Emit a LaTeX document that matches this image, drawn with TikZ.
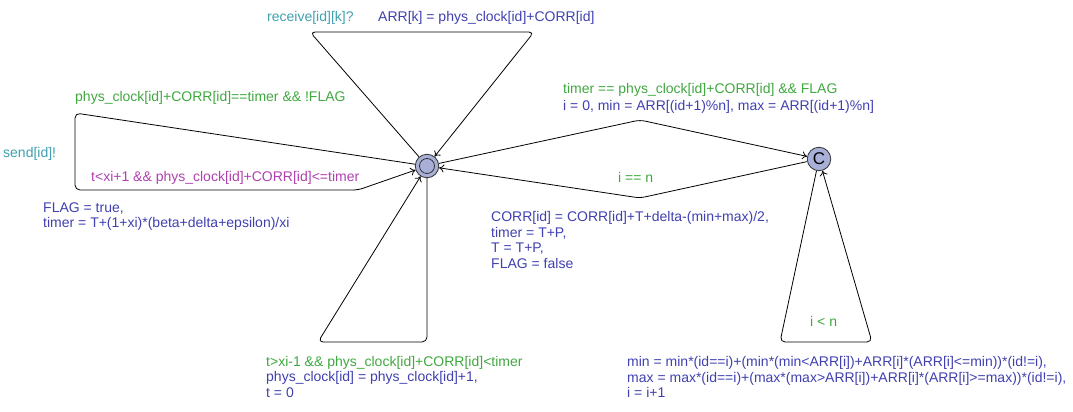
\documentclass[tikz,border=0pt]{standalone}
\usepackage{fontspec}
\setmainfont{Liberation Sans}
\usetikzlibrary{positioning,arrows.meta}
\definecolor{guardc}{RGB}{64,168,64}
\definecolor{syncc}{RGB}{64,160,176}
\definecolor{assignc}{RGB}{64,64,176}
\definecolor{invc}{RGB}{176,64,176}
\definecolor{locfill}{RGB}{168,176,216}
\begin{document}
\begin{tikzpicture}[x=1pt,y=-1pt,
    loc/.style={circle,draw=black!80,fill=locfill,minimum size=23.5pt,inner sep=0pt,line width=0.8pt},
    edge/.style={-{To[length=5pt,width=8pt]},rounded corners=5pt,line width=0.8pt},
    lbl/.style={anchor=north west,inner sep=0pt,align=left,font=\fontsize{14}{15.5}\selectfont}]
    \useasboundingbox (0,0) rectangle (1073,412);
    \node[loc] (init) at (427,166) {};
    \draw[black!80,line width=0.8pt] (init.center) circle (7.5pt);
    \node[loc,font=\fontsize{17}{17}\selectfont] (comm) at (819,159) {C};
    \coordinate (t1) at (310,32);
    \coordinate (t2) at (534,32);
    \coordinate (l1) at (75,113);
    \coordinate (l2) at (75,190);
    \coordinate (l3) at (358,190);
    \coordinate (b1) at (427,342);
    \coordinate (b2) at (318,342);
    \coordinate (m1) at (640,120);
    \coordinate (m2) at (640,198);
    \coordinate (c1) at (780,342);
    \coordinate (c2) at (872,342);
    \draw[edge] (init) -- (t1) -- (t2) -- (init);
    \draw[edge] (init) -- (l1) -- (l2) -- (l3) -- (init);
    \draw[edge] (init) -- (b1) -- (b2) -- (init);
    \draw[edge] (init) -- (m1) -- (comm);
    \draw[edge] (comm) -- (m2) -- (init);
    \draw[edge] (comm) -- (c1) -- (c2) -- (comm);
    \node[lbl,text=syncc] (sync1) at (267,11.5) {receive[id][k]?};
    \node[lbl,text=assignc] (assign1) at (378,11.5) {ARR[k] = phys\_clock[id]+CORR[id]};
    \node[lbl,text=guardc] (guard2) at (75,91.5) {phys\_clock[id]+CORR[id]==timer \&\& !FLAG};
    \node[lbl,text=syncc] (sync2) at (3,147.5) {send[id]!};
    \node[lbl,text=invc] (inv) at (91,171.5) {t<xi+1 \&\& phys\_clock[id]+CORR[id]<=timer};
    \node[lbl,text=assignc] (assign2) at (43,202.5) {FLAG = true,\\timer = T+(1+xi)*(beta+delta+epsilon)/xi};
    \node[lbl,text=guardc] (guard3) at (266,356.5) {t>xi-1 \&\& phys\_clock[id]+CORR[id]<timer};
    \node[lbl,text=assignc] (assign3) at (266,371.5) {phys\_clock[id] = phys\_clock[id]+1,\\t = 0};
    \node[lbl,text=guardc] (guard4) at (563,83.5) {timer == phys\_clock[id]+CORR[id] \&\& FLAG};
    \node[lbl,text=assignc] (assign4) at (563,100.5) {i = 0, min = ARR[(id+1)\%n], max = ARR[(id+1)\%n]};
    \node[lbl,text=guardc] (guard5) at (618,172.5) {i == n};
    \node[lbl,text=assignc] (assign5) at (491,211.5) {CORR[id] = CORR[id]+T+delta-(min+max)/2,\\timer = T+P,\\T = T+P,\\FLAG = false};
    \node[lbl,text=guardc] (guard6) at (810,316.5) {i < n};
    \node[lbl,text=assignc] (assign6) at (627,356.5) {min = min*(id==i)+(min*(min<ARR[i])+ARR[i]*(ARR[i]<=min))*(id!=i),\\max = max*(id==i)+(max*(max>ARR[i])+ARR[i]*(ARR[i]>=max))*(id!=i),\\i = i+1};
\end{tikzpicture}
\end{document}
